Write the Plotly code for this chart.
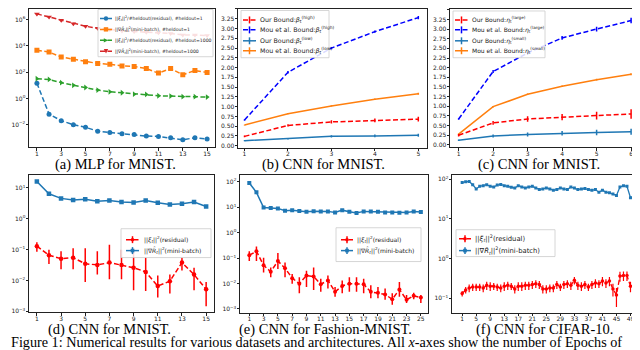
import plotly.graph_objects as go

W, H = 640, 350

# ---------------- data ----------------
# (a) MLP for MNIST
a_epochs = list(range(1, 16))
a_res_h1 = [14.5, 0.063, 0.020, 0.010, 0.0063, 0.0032, 0.0025, 0.0020, 0.0018, 0.00135, 0.00126, 0.0010, 0.00071, 0.0010, 0.00079]
a_mb_h1 = [4800, 3400, 1450, 950, 630, 460, 400, 300, 270, 190, 85, 190, 63, 135, 95]
a_res_h1000 = [32, 28, 16, 10, 6.8, 4.3, 3.2, 2.7, 2.1, 2.0, 1.6, 1.5, 1.35, 1.35, 1.26]
a_mb_h1000 = [2.8e6, 1.6e6, 9e5, 5e5, 3.2e5, 2.2e5, 1.8e5, 1.4e5, 1.26e5, 1.12e5, 1e5, 9e4, 7e4, 7e4, 6.3e4]

# (b) CNN for MNIST (beta)
b_x = [1, 2, 3, 4, 5]
b_our_high = [0.24, 0.52, 0.61, 0.65, 0.68]
b_our_high_err = [0.02, 0.03, 0.04, 0.05, 0.06]
b_mou_high = [0.66, 1.88, 2.50, 2.92, 3.28]
b_mou_high_err = [0.02, 0.03, 0.03, 0.03, 0.04]
b_our_low = [0.13, 0.18, 0.24, 0.25, 0.27]
b_our_low_err = [0.015, 0.02, 0.03, 0.035, 0.04]
b_mou_low = [0.53, 0.82, 1.02, 1.19, 1.33]
b_mou_low_err = [0.01, 0.015, 0.015, 0.02, 0.025]

# (c) CNN for MNIST (eta)
c_x = [1, 2, 3, 4, 5, 6]
c_our_large = [0.25, 0.57, 0.67, 0.72, 0.76, 0.80]
c_our_large_err = [0.03, 0.05, 0.07, 0.08, 0.10, 0.12]
c_mou_large = [0.67, 1.90, 2.38, 2.77, 3.00, 3.22]
c_mou_large_err = [0.02, 0.04, 0.04, 0.05, 0.06, 0.07]
c_our_small = [0.12, 0.23, 0.27, 0.30, 0.32, 0.34]
c_our_small_err = [0.02, 0.04, 0.05, 0.06, 0.07, 0.08]
c_mou_small = [0.28, 0.99, 1.31, 1.52, 1.69, 1.83]
c_mou_small_err = [0.015, 0.02, 0.02, 0.02, 0.02, 0.025]

# (d) CNN for MNIST
d_epochs = list(range(1, 16))
d_mb = [16.2, 6.5, 4.6, 4.1, 4.3, 3.7, 3.9, 3.5, 3.4, 3.9, 3.3, 2.9, 3.1, 3.5, 2.5]
d_res = [0.13, 0.066, 0.051, 0.055, 0.035, 0.032, 0.038, 0.032, 0.026, 0.019, 0.0066, 0.0095, 0.038, 0.0155, 0.0052]
d_res_hi = [0.174, 0.10, 0.089, 0.112, 0.112, 0.089, 0.145, 0.10, 0.112, 0.055, 0.0145, 0.0155, 0.055, 0.026, 0.0089]
d_res_lo = [0.085, 0.034, 0.023, 0.023, 0.0089, 0.0155, 0.011, 0.011, 0.0048, 0.0046, 0.0028, 0.0038, 0.021, 0.0048, 0.00145]

# (e) CNN for Fashion-MNIST
e_epochs = list(range(1, 26))
e_mb = [88, 38, 9.6, 9.3, 8.9, 7.2, 7.5, 7.0, 6.6, 6.9, 6.8, 6.8, 6.1, 7.6, 6.6, 5.9, 6.8, 6.7, 6.6, 6.1, 6.2, 6.0, 6.2, 6.7, 6.4]
e_res = [0.129, 0.184, 0.052, 0.029, 0.076, 0.040, 0.0162, 0.0098, 0.0204, 0.0187, 0.0093, 0.0132, 0.0047, 0.0080, 0.0098,
         0.0098, 0.0093, 0.0047, 0.0043, 0.0037, 0.0024, 0.0058, 0.0023, 0.0033, 0.0028]
e_res_hi = [0.184, 0.285, 0.102, 0.042, 0.159, 0.066, 0.0237, 0.0177, 0.0317, 0.042, 0.0152, 0.0204, 0.0073, 0.0132, 0.0177,
            0.0177, 0.0152, 0.0085, 0.0073, 0.0063, 0.0041, 0.0114, 0.0035, 0.0043, 0.0035]
e_res_lo = [0.076, 0.076, 0.027, 0.0177, 0.0367, 0.0177, 0.0098, 0.0041, 0.0073, 0.0055, 0.0047, 0.0063, 0.0030, 0.0041, 0.0047,
            0.0047, 0.0041, 0.0026, 0.0026, 0.0023, 0.00146, 0.0030, 0.0017, 0.0024, 0.0017]

# (f) CNN for CIFAR-10
f_epochs = list(range(1, 51))
f_mb = [82.8, 86.0, 87.6, 72.6, 56.8, 66.1, 68.6, 72.6, 66.1, 63.6, 71.3, 74.0, 68.6, 66.1, 62.4, 60.1, 68.6, 63.6, 60.1, 63.6,
        66.1, 60.1, 54.7, 56.8, 60.1, 56.8, 52.7, 54.7, 60.1, 56.8, 54.7, 63.6, 60.1, 54.7, 56.8, 57.9, 54.7, 52.7, 54.7, 47.1,
        52.7, 47.1, 45.4, 42.1, 39.0, 63.6, 68.6, 66.1, 34.2, 36.5]
f_res = [0.13, 0.16, 0.18, 0.19, 0.19, 0.19, 0.18, 0.21, 0.20, 0.20, 0.19, 0.18, 0.20, 0.21, 0.20, 0.17, 0.20, 0.20, 0.21, 0.21,
         0.22, 0.23, 0.22, 0.17, 0.17, 0.18, 0.18, 0.22, 0.19, 0.22, 0.23, 0.21, 0.28, 0.21, 0.20, 0.22, 0.19, 0.22, 0.24, 0.23,
         0.27, 0.24, 0.27, 0.17, 0.12, 0.36, 0.37, 0.37, 0.20, 0.16]
f_res_err = [0.02, 0.03, 0.04, 0.04, 0.04, 0.04, 0.04, 0.05, 0.05, 0.04, 0.04, 0.04, 0.05, 0.05, 0.04, 0.04, 0.05, 0.05, 0.05, 0.05,
             0.05, 0.05, 0.05, 0.04, 0.04, 0.04, 0.04, 0.05, 0.04, 0.05, 0.05, 0.05, 0.06, 0.05, 0.05, 0.05, 0.04, 0.05, 0.06, 0.05,
             0.07, 0.06, 0.07, 0.06, 0.06, 0.10, 0.10, 0.10, 0.06, 0.05]

captions = ["(a) MLP for MNIST.", "(b) CNN for MNIST.", "(c) CNN for MNIST.",
            "(d) CNN for MNIST.", "(e) CNN for Fashion-MNIST.", "(f) CNN for CIFAR-10."]
figure_caption = "Figure 1: Numerical results for various datasets and architectures. All <i>x</i>-axes show the number of Epochs of"

# ---------------- styling ----------------
BLUE = "#1f77b4"
ORANGE = "#ff7f0e"
GREEN = "#2ca02c"
TRED = "#d62728"
RED = "#ff0000"
PBLUE = "#0000ff"
DASH = "5px,2.5px"
FRAME = "#222222"
TICKFONT = dict(family="DejaVu Sans", size=6, color="#222222")
SERIF = "Liberation Serif"


def px(x):
    return x / W


def py(y):
    return 1 - y / H


# panel pixel boxes (x0, x1, ytop, ybottom)
boxes = [
    (21, 207, 1, 140),
    (230, 419, 1, 140.5),
    (442, 630, 1, 140),
    (21, 206, 168, 306),
    (232, 420, 168, 306.5),
    (444, 633, 168, 306.5),
]

fig = go.Figure()


def ax(i):
    return ("x" if i == 1 else f"x{i}"), ("y" if i == 1 else f"y{i}")


def errs(mean, hi, lo):
    return [h - m for h, m in zip(hi, mean)], [m - l for m, l in zip(mean, lo)]


def line_trace(i, x, y, color, dash=None, width=1.5, marker=None, msize=5, err=None, errminus=None, ethick=1.5):
    xa, ya = ax(i)
    kw = dict(x=x, y=y, xaxis=xa, yaxis=ya, showlegend=False,
              line=dict(color=color, width=width, dash=dash if dash else "solid"))
    if marker:
        kw["mode"] = "lines+markers"
        kw["marker"] = dict(symbol=marker, size=msize, color=color, line=dict(width=0))
    else:
        kw["mode"] = "lines"
    if err is not None:
        ed = dict(type="data", array=err, color=color, thickness=ethick, width=0, visible=True)
        if errminus is not None:
            ed["symmetric"] = False
            ed["arrayminus"] = errminus
        kw["error_y"] = ed
    fig.add_trace(go.Scatter(**kw))


# (a)
line_trace(1, a_epochs, a_res_h1, BLUE, DASH, marker="circle", msize=5)
line_trace(1, a_epochs, a_mb_h1, ORANGE, DASH, marker="square", msize=5)
line_trace(1, a_epochs, a_res_h1000, GREEN, DASH, marker="triangle-right", msize=5)
line_trace(1, a_epochs, a_mb_h1000, TRED, DASH, marker="triangle-down", msize=5)

# (b)
line_trace(2, b_x, b_our_low, BLUE, None, err=b_our_low_err)
line_trace(2, b_x, b_mou_low, ORANGE, None, err=b_mou_low_err)
line_trace(2, b_x, b_our_high, RED, DASH, err=b_our_high_err)
line_trace(2, b_x, b_mou_high, PBLUE, DASH, err=b_mou_high_err)

# (c)
line_trace(3, c_x, c_our_small, BLUE, None, err=c_our_small_err)
line_trace(3, c_x, c_mou_small, ORANGE, None, err=c_mou_small_err)
line_trace(3, c_x, c_our_large, RED, DASH, err=c_our_large_err)
line_trace(3, c_x, c_mou_large, PBLUE, DASH, err=c_mou_large_err)

# (d)
line_trace(4, d_epochs, d_mb, BLUE, None, marker="square", msize=4.5)
ep, em = errs(d_res, d_res_hi, d_res_lo)
line_trace(4, d_epochs, d_res, RED, DASH, marker="circle", msize=4.5, err=ep, errminus=em)

# (e)
line_trace(5, e_epochs, e_mb, BLUE, None, marker="square", msize=4)
ep, em = errs(e_res, e_res_hi, e_res_lo)
line_trace(5, e_epochs, e_res, RED, DASH, marker="circle", msize=4, err=ep, errminus=em)

# (f)
line_trace(6, f_epochs, f_mb, BLUE, None, marker="square", msize=3, width=1.3)
line_trace(6, f_epochs, f_res, RED, DASH, marker="circle", msize=3.5, err=f_res_err, width=1.3, ethick=1.2)

# ---------------- axes ----------------
xranges = [[0.35, 15.65], [0.85, 5.2], [0.75, 6.2], [0.35, 15.65], [-0.3, 26.0], [-1.9, 52.0]]
xticks = [list(range(1, 16, 2)), [1, 2, 3, 4, 5], [1, 2, 3, 4, 5, 6],
          list(range(1, 16, 2)), list(range(1, 26, 2)), list(range(1, 50, 4))]
yranges = [[-3.72, 6.82], [-0.05, 3.5], [-0.06, 3.52], [-3.03, 1.42], [-3.15, 2.26], [-1.37, 2.105]]
ylog = [True, False, False, True, True, True]
ytickvals = [[1e-2, 1, 1e2, 1e4, 1e6], None, None, [1e-3, 1e-2, 1e-1, 1, 10],
             [1e-3, 1e-2, 1e-1, 1, 10, 100], [1e-1, 1, 10, 100]]
yticktext = [["10<sup>−2</sup>", "10<sup>0</sup>", "10<sup>2</sup>", "10<sup>4</sup>", "10<sup>6</sup>"], None, None,
             ["10<sup>−3</sup>", "10<sup>−2</sup>", "10<sup>−1</sup>", "10<sup>0</sup>", "10<sup>1</sup>"],
             ["10<sup>−3</sup>", "10<sup>−2</sup>", "10<sup>−1</sup>", "10<sup>0</sup>", "10<sup>1</sup>", "10<sup>2</sup>"],
             ["10<sup>−1</sup>", "10<sup>0</sup>", "10<sup>1</sup>", "10<sup>2</sup>"]]

common = dict(showline=True, linecolor=FRAME, linewidth=1, mirror=True, ticks="outside", ticklen=2.5,
              tickwidth=0.8, tickcolor=FRAME, showgrid=False, zeroline=False, tickfont=TICKFONT)

layout = dict(width=W, height=H, margin=dict(l=0, r=0, t=0, b=0), paper_bgcolor="white",
              plot_bgcolor="white", showlegend=False)
for i in range(1, 7):
    x0, x1, yt, yb = boxes[i - 1]
    xa = dict(common, domain=[px(x0), px(x1)], range=xranges[i - 1], tickvals=xticks[i - 1],
              anchor=("y" if i == 1 else f"y{i}"), ticklabelstandoff=-2)
    ya = dict(common, domain=[py(yb), py(yt)], range=yranges[i - 1], anchor=("x" if i == 1 else f"x{i}"),
              ticklabelstandoff=-1)
    if ylog[i - 1]:
        ya["type"] = "log"
        ya["tickvals"] = ytickvals[i - 1]
        ya["ticktext"] = yticktext[i - 1]
    else:
        ya["dtick"] = 0.25
        ya["tick0"] = 0
        ya["tickformat"] = ".2f"
    layout["xaxis" if i == 1 else f"xaxis{i}"] = xa
    layout["yaxis" if i == 1 else f"yaxis{i}"] = ya
fig.update_layout(**layout)

# ---------------- legends (drawn as boxes + keys + labels) ----------------
shapes = []
annotations = []


def legend_box(x0, y0, x1, y1):
    shapes.append(dict(type="rect", xref="paper", yref="paper", x0=px(x0), x1=px(x1), y0=py(y1), y1=py(y0),
                       line=dict(color="#cccccc", width=0.8), fillcolor="rgba(255,255,255,0.85)", layer="above"))


def key(xa, xb, y, color, dash=None, marker=None, err=False, lw=1.5, ms=2.2):
    shapes.append(dict(type="line", xref="paper", yref="paper", x0=px(xa), x1=px(xb), y0=py(y), y1=py(y),
                       line=dict(color=color, width=lw, dash=dash if dash else "solid"), layer="above"))
    xm = (xa + xb) / 2
    if err:
        shapes.append(dict(type="line", xref="paper", yref="paper", x0=px(xm), x1=px(xm), y0=py(y - 3.5),
                           y1=py(y + 3.5), line=dict(color=color, width=lw), layer="above"))
    if marker == "circle":
        shapes.append(dict(type="circle", xref="paper", yref="paper", x0=px(xm - ms), x1=px(xm + ms),
                           y0=py(y + ms), y1=py(y - ms), fillcolor=color, line=dict(width=0), layer="above"))
    elif marker == "square":
        shapes.append(dict(type="rect", xref="paper", yref="paper", x0=px(xm - ms), x1=px(xm + ms),
                           y0=py(y + ms), y1=py(y - ms), fillcolor=color, line=dict(width=0), layer="above"))
    elif marker in ("tri-right", "tri-down"):
        if marker == "tri-right":
            pts = [(xm - ms, y - ms), (xm + ms, y), (xm - ms, y + ms)]
        else:
            pts = [(xm - ms, y - ms), (xm + ms, y - ms), (xm, y + ms)]
        path = "M " + " L ".join(f"{px(a):.5f},{py(b):.5f}" for a, b in pts) + " Z"
        shapes.append(dict(type="path", xref="paper", yref="paper", path=path, fillcolor=color,
                           line=dict(width=0), layer="above"))


def label(x, y, text, size):
    annotations.append(dict(xref="paper", yref="paper", x=px(x), y=py(y), text=text, showarrow=False,
                            xanchor="left", yanchor="middle", font=dict(family="DejaVu Sans", size=size, color="#222222")))


XI = "||<i>ξ<sub>t</sub></i>||<sup>2</sup>"
GR = "||∇<i>R̂<sub>t</sub></i>||<sup>2</sup>"

# (a)
legend_box(90, 1.5, 205, 49)
rows_a = [10.5, 21.5, 32.5, 43.5]
specs_a = [(BLUE, "circle", XI + "/#heldout(residual), #heldout=1"),
           (ORANGE, "square", GR + "(mini-batch), #heldout=1"),
           (GREEN, "tri-right", XI + "/#heldout(residual), #heldout=1000"),
           (TRED, "tri-down", GR + "(mini-batch), #heldout=1000")]
for yy, (c, m, t) in zip(rows_a, specs_a):
    key(92, 104, yy, c, DASH, marker=m)
    label(105, yy, t, 4.6)

# (b)
legend_box(233, 2.5, 321, 50)
rows_b = [12, 22, 33, 43]
specs_b = [(RED, DASH, "Our Bound:<i>β</i><sub>t</sub><sup>(high)</sup>"),
           (PBLUE, DASH, "Mou et al. Bound:<i>β</i><sub>t</sub><sup>(high)</sup>"),
           (BLUE, None, "Our Bound:<i>β</i><sub>t</sub><sup>(low)</sup>"),
           (ORANGE, None, "Mou et al. Bound:<i>β</i><sub>t</sub><sup>(low)</sup>")]
for yy, (c, d, t) in zip(rows_b, specs_b):
    key(235, 248, yy, c, d, err=True)
    label(249.5, yy, t, 6.3)

# (c)
legend_box(445, 3, 537, 50)
specs_c = [(RED, DASH, "Our Bound:<i>η</i><sub>t</sub><sup>(large)</sup>"),
           (PBLUE, DASH, "Mou et al. Bound:<i>η</i><sub>t</sub><sup>(large)</sup>"),
           (BLUE, None, "Our Bound:<i>η</i><sub>t</sub><sup>(small)</sup>"),
           (ORANGE, None, "Mou et al. Bound:<i>η</i><sub>t</sub><sup>(small)</sup>")]
for yy, (c, d, t) in zip(rows_b, specs_c):
    key(447, 460, yy, c, d, err=True)
    label(461.5, yy, t, 6.0)

# (d), (e), (f)
for (bx0, by0, bx1, by1, kx0, kx1, tx, r1, r2, fs) in [
    (113, 222, 203, 251, 118, 131, 133.5, 233, 244, 6.0),
    (328, 221, 413, 255, 333, 345, 346.5, 233, 244, 6.0),
    (448, 223, 547, 250, 451, 463, 464.5, 232, 244, 6.8),
]:
    legend_box(bx0, by0, bx1, by1)
    key(kx0, kx1, r1, RED, DASH, marker="circle", err=True, ms=1.8)
    label(tx, r1, XI + "(residual)", fs)
    key(kx0, kx1, r2, BLUE, None, marker="square", err=True, ms=1.8)
    label(tx, r2, GR + "(mini-batch)", fs)

# captions
cap_pos = [(107, 157.5), (315, 157.5), (531, 157.5), (101, 323.5), (317, 323.5), (536, 323.5)]
for (cx, cy), t in zip(cap_pos, captions):
    annotations.append(dict(xref="paper", yref="paper", x=px(cx), y=py(cy), text=t, showarrow=False,
                            xanchor="center", yanchor="middle", font=dict(family=SERIF, size=14.5, color="black")))
annotations.append(dict(xref="paper", yref="paper", x=px(1), y=py(346), text=figure_caption, showarrow=False,
                        xanchor="left", yanchor="bottom", font=dict(family=SERIF, size=14.2, color="black")))

fig.update_layout(shapes=shapes, annotations=annotations)
fig.write_html("out.html")
